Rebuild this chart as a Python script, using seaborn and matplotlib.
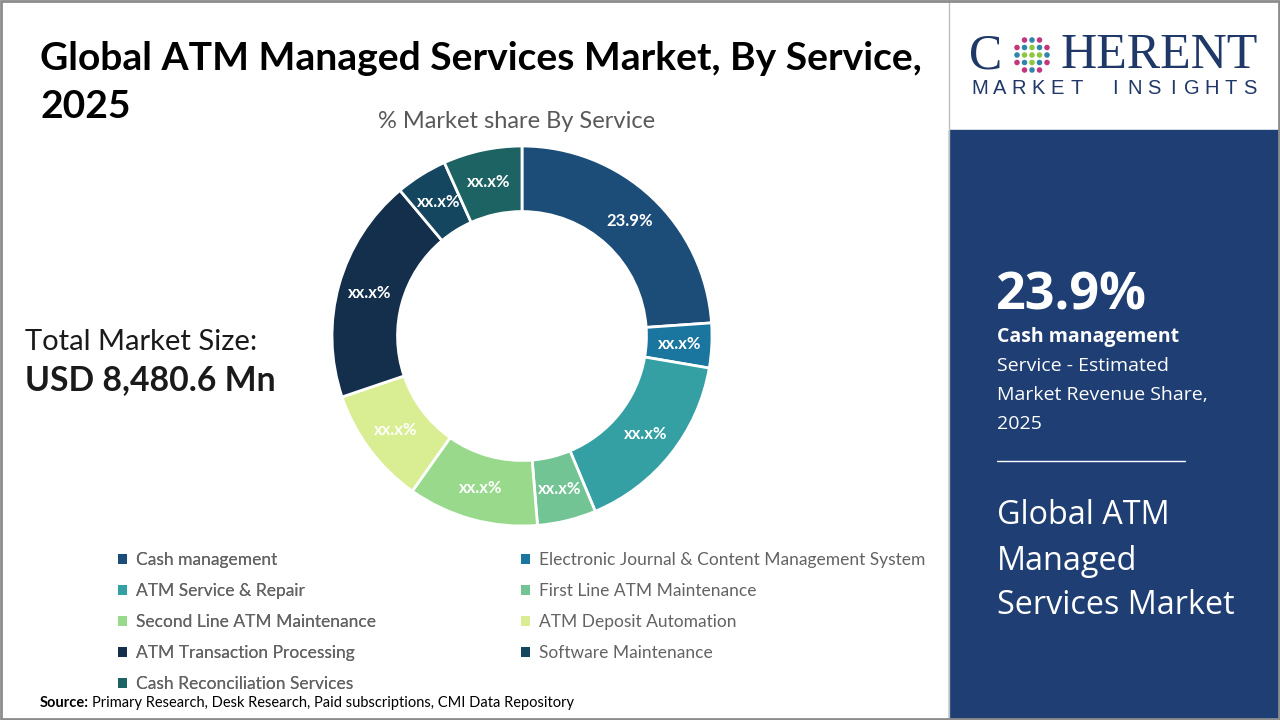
import numpy as np
import seaborn as sns
import matplotlib.pyplot as plt
from matplotlib.patches import Rectangle, Patch

# chart data
services = [
    "Cash management",
    "Electronic Journal & Content Management System",
    "ATM Service & Repair",
    "First Line ATM Maintenance",
    "Second Line ATM Maintenance",
    "ATM Deposit Automation",
    "ATM Transaction Processing",
    "Software Maintenance",
    "Cash Reconciliation Services",
]
shares = [23.9, 3.8, 16.0, 5.0, 11.1, 10.0, 19.1, 4.4, 6.7]
share_labels = ["23.9%", "xx.x%", "xx.x%", "xx.x%", "xx.x%", "xx.x%", "xx.x%", "xx.x%", "xx.x%"]
colors = ["#1b4d78", "#1a759f", "#34a0a4", "#72c495", "#99d98c",
          "#d9ed92", "#132f4c", "#15465f", "#1e6363"]

sns.set_theme(style="white")
plt.rcParams['font.family'] = ['Lato', 'DejaVu Sans']

W, H = 1280, 720
fig = plt.figure(figsize=(12.8, 7.2), dpi=100)
fig.patch.set_facecolor("white")

# background layer in pixel coordinates
bg = fig.add_axes([0, 0, 1, 1], zorder=0)
bg.set_xlim(0, W)
bg.set_ylim(H, 0)
bg.axis("off")
bg.add_patch(Rectangle((949, 130), 331, 590, color="#1f3e74", zorder=1))
bg.add_patch(Rectangle((1, 1), W - 2, H - 2, fill=False, ec="#8c8c8c", lw=2, zorder=5))
bg.plot([948.5, 948.5], [0, 720], color="#bfbfbf", lw=1, zorder=4)

# title and side texts
bg.text(40, 58, "Global ATM Managed Services Market, By Service,", fontsize=28.1,
        fontweight="bold", color="black", va="center", ha="left")
bg.text(40, 107, "2025", fontsize=28.1, fontweight="bold", color="black", va="center")
bg.text(517, 121, "% Market share By Service", fontsize=17, color="#595959",
        va="center", ha="center")
bg.text(25, 342, "Total Market Size:", fontsize=21, color="#1a1a1a", va="center")
bg.text(25, 380, "USD 8,480.6 Mn", fontsize=24.3, fontweight="bold", color="#1a1a1a", va="center")
bg.text(40, 703, "Source:", fontsize=10.5, fontweight="bold", color="black", va="center")
bg.text(92, 703, "Primary Research, Desk Research, Paid subscriptions, CMI Data Repository",
        fontsize=10.5, color="black", va="center")

# right panel
side = ['Open Sans', 'DejaVu Sans']
bg.text(996, 296, "23.9%", fontsize=37.5, fontweight="bold", color="white", va="center", family=side)
bg.text(997, 337, "Cash management", fontsize=14, fontweight="bold", color="white", va="center", family=side)
bg.text(997, 366, "Service - Estimated", fontsize=14, color="white", va="center", family=side)
bg.text(997, 395, "Market Revenue Share,", fontsize=14, color="white", va="center", family=side)
bg.text(997, 424, "2025", fontsize=14, color="white", va="center", family=side)
bg.plot([997, 1185], [461, 461], color="white", lw=1, zorder=3)
for i, line in enumerate(["Global ATM", "Managed", "Services Market"]):
    bg.text(997, 516 + 45 * i, line, fontsize=23.3, color="white", va="center", family=side)

# logo
navy = "#1f3868"
serif = ['Liberation Serif']
bg.text(969, 56, "C", fontsize=36, color=navy, va="center", ha="left", family=serif)
bg.text(1258, 56, "HERENT", fontsize=36, color=navy, va="center", ha="right", family=serif)
for ch, x in zip("MARKET INSIGHTS", np.linspace(980, 1250, 15)):
    bg.text(x, 88, ch, fontsize=14.5, color=navy, va="center", ha="center",
            family=['Liberation Sans'])
gx, gy = np.meshgrid(np.arange(-2, 3), np.arange(-2, 3))
gx, gy = gx.ravel(), gy.ravel()
d2 = gx ** 2 + gy ** 2
keep = d2 <= 5
dot_col = np.where(d2 <= 1, "#8dc63f", np.where(d2 >= 5, "#c2367f", "#2e86ab"))
bg.scatter(1032 + gx[keep] * 7.5, 55 + gy[keep] * 7.5, s=16, c=dot_col[keep],
           marker="o", linewidths=0, zorder=3)

# donut
ax = fig.add_axes([332 / W, 1 - 526 / H, 380 / W, 380 / H], zorder=2)
wedges, _ = ax.pie(shares, colors=colors, startangle=90, counterclock=False, radius=1,
                   wedgeprops=dict(width=0.345, edgecolor="white", linewidth=2))
for w, lab in zip(wedges, share_labels):
    ang = np.deg2rad((w.theta1 + w.theta2) / 2)
    r = 0.83
    ax.text(r * np.cos(ang), r * np.sin(ang), lab, ha="center", va="center",
            color="white", fontsize=12, fontweight="bold")
ax.set_xlim(-1, 1)
ax.set_ylim(-1, 1)
ax.set_aspect("equal")
ax.axis("off")

# legend in two columns, row-major order
handles = [Patch(facecolor=c, edgecolor="none") for c in colors]
common = dict(frameon=False, fontsize=12.5, handlelength=0.5, handleheight=0.5,
              handletextpad=0.55, labelspacing=0.86, labelcolor="#636363",
              borderaxespad=0, borderpad=0)
leg1 = fig.legend([handles[i] for i in range(0, 9, 2)], [services[i] for i in range(0, 9, 2)],
                  loc="upper left", bbox_to_anchor=(118 / W, 1 - 552 / H), **common)
fig.add_artist(leg1)
fig.legend([handles[i] for i in range(1, 9, 2)], [services[i] for i in range(1, 9, 2)],
           loc="upper left", bbox_to_anchor=(521 / W, 1 - 552 / H), **common)

fig.savefig("out.png", dpi=100)
